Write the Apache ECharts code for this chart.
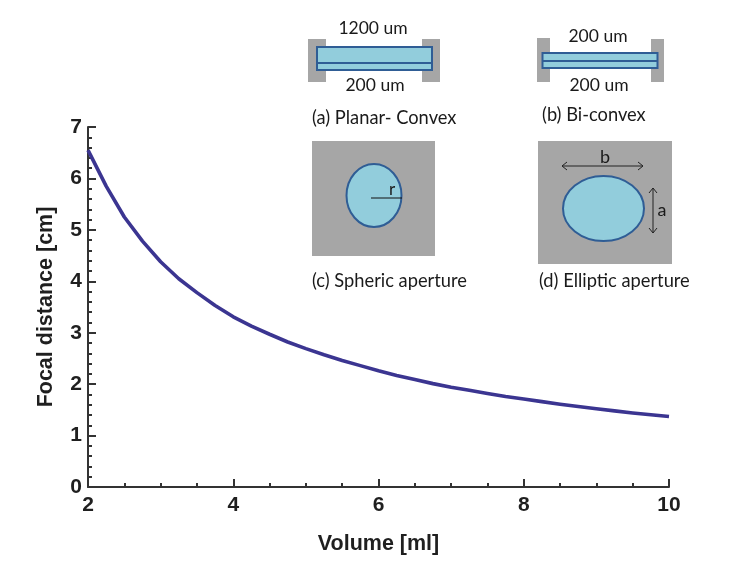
<!DOCTYPE html>
<html><head><meta charset="utf-8">
<style>html,body{margin:0;padding:0;background:#fff}#c{width:747px;height:574px}</style>
<script src="https://cdn.jsdelivr.net/npm/echarts@6/dist/echarts.min.js"></script>
</head><body><div id="c"></div>
<script>
const volume = [2,2.25,2.5,2.75,3,3.25,3.5,3.75,4,4.25,4.5,4.75,5,5.25,5.5,5.75,6,6.25,6.5,6.75,7,7.25,7.5,7.75,8,8.25,8.5,8.75,9,9.25,9.5,9.75,10];
const focal = [6.55,5.85,5.25,4.78,4.38,4.05,3.78,3.53,3.31,3.13,2.97,2.82,2.69,2.57,2.46,2.36,2.26,2.17,2.09,2.01,1.94,1.88,1.82,1.76,1.71,1.66,1.61,1.565,1.52,1.48,1.44,1.405,1.37];
const xTicks = [2,4,6,8,10];
const yTicks = [0,1,2,3,4,5,6,7];
const xTitle = 'Volume [ml]';
const yTitle = 'Focal distance [cm]';

const GRAY='#a6a6a6', BLUE='#92cddc', EDGE='#2f5d95', SANS='Lato, "Open Sans", sans-serif';
const rect=(x,y,w,h,fill,stroke)=>({type:'rect',shape:{x,y,width:w,height:h},style:{fill,stroke:stroke||null,lineWidth:stroke?2:0}});
const line=(x1,y1,x2,y2,c,w)=>({type:'line',shape:{x1,y1,x2,y2},style:{stroke:c||EDGE,lineWidth:w||2}});
const ell=(cx,cy,rx,ry)=>({type:'ellipse',shape:{cx,cy,rx,ry},style:{fill:BLUE,stroke:EDGE,lineWidth:2}});
const txt=(x,y,t,align,size)=>({type:'text',x,y,style:{text:t,fill:'#1a1a1a',font:(size||18.3)+'px '+SANS,textAlign:align||'center',textVerticalAlign:'middle'}});
const arrow=(pts)=>({type:'polyline',shape:{points:pts},style:{stroke:'#222',lineWidth:1,fill:null}});

const graphic=[
  rect(308,39,18,43,GRAY),rect(422,39,18,43,GRAY),
  rect(317,47,115,23,BLUE,EDGE),line(317,63,432,63),
  txt(373,28,'1200 um','center',17.5),txt(375,85,'200 um','center',17.5),txt(312,118,'(a) Planar- Convex','left'),

  rect(537,38,13,44,GRAY),rect(651,39,13,43,GRAY),
  rect(542.5,53,115,15,BLUE,EDGE),line(542,61,657,61),
  txt(598,36,'200 um','center',17.5),txt(599,85,'200 um','center',17.5),txt(542,115,'(b) Bi-convex','left'),

  rect(312,141,123,115,GRAY),ell(374,195.5,27.5,31.5),
  line(371,198,402,198,'#111',1),txt(392,190,'r','center',17),
  txt(312,281,'(c) Spheric aperture','left'),

  rect(538,141,134,123,GRAY),ell(603.5,208.5,40.5,32.5),
  line(562,166,643,166,'#222',1),arrow([[567,162],[562,166],[567,170]]),arrow([[638,162],[643,166],[638,170]]),
  line(653,188,653,233,'#222',1),arrow([[649,193],[653,188],[657,193]]),arrow([[649,228],[653,233],[657,228]]),
  txt(605,157,'b','center',18),txt(662,210,'a','center',18),
  txt(539,281,'(d) Elliptic aperture','left')
];

const chart=echarts.init(document.getElementById('c'),null,{renderer:'canvas'});
const axisFont={fontFamily:'"Liberation Sans", Arial, sans-serif',fontWeight:'bold',color:'#1f1f1f'};
chart.setOption({
  animation:false,backgroundColor:'#fff',
  grid:{left:88,top:127,width:581,height:360,containLabel:false},
  xAxis:{type:'value',min:2,max:10,interval:2,
    name:xTitle,nameLocation:'middle',nameGap:46,nameTextStyle:{...axisFont,fontSize:21.5},
    axisLine:{show:true,lineStyle:{color:'#333',width:2}},
    axisTick:{show:true,inside:true,length:8,lineStyle:{color:'#333',width:2}},
    minorTick:{show:true,splitNumber:4,length:4,lineStyle:{color:'#333',width:2}},
    splitLine:{show:false},
    axisLabel:{...axisFont,fontSize:21,margin:8,showMinLabel:true,showMaxLabel:true,
      formatter:v=>xTicks.includes(v)?String(v):''}},
  yAxis:{type:'value',min:0,max:7,interval:1,
    name:yTitle,nameLocation:'middle',nameGap:31,nameTextStyle:{...axisFont,fontSize:21.5},
    axisLine:{show:true,lineStyle:{color:'#333',width:2}},
    axisTick:{show:true,inside:true,length:8,lineStyle:{color:'#333',width:2}},
    minorTick:{show:true,splitNumber:5,length:4,lineStyle:{color:'#333',width:2}},
    splitLine:{show:false},
    axisLabel:{...axisFont,fontSize:21,margin:6,showMinLabel:true,showMaxLabel:true,
      formatter:v=>yTicks.includes(v)?String(v):''}},
  series:[{type:'line',data:volume.map((v,i)=>[v,focal[i]]),smooth:false,showSymbol:false,symbol:'none',clip:false,
    lineStyle:{color:'#3b3591',width:3.6,join:'round',cap:'butt'}}],
  graphic:{elements:graphic}
});
</script></body></html>
